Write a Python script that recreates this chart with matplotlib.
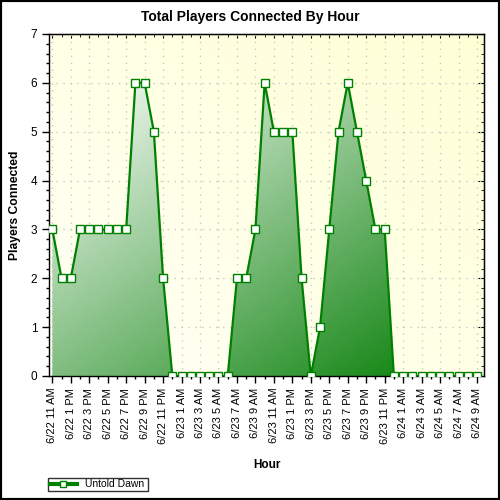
import numpy as np
import matplotlib
matplotlib.use("Agg")
import matplotlib.pyplot as plt
from matplotlib.colors import LinearSegmentedColormap
from matplotlib.lines import Line2D
from matplotlib.patches import Rectangle

plt.rcParams['font.family'] = ['Liberation Sans', 'DejaVu Sans']

title = "Total Players Connected By Hour"
series_name = "Untold Dawn"
tick_labels = ["6/22 11 AM", "6/22 1 PM", "6/22 3 PM", "6/22 5 PM", "6/22 7 PM",
               "6/22 9 PM", "6/22 11 PM", "6/23 1 AM", "6/23 3 AM", "6/23 5 AM",
               "6/23 7 AM", "6/23 9 AM", "6/23 11 AM", "6/23 1 PM", "6/23 3 PM",
               "6/23 5 PM", "6/23 7 PM", "6/23 9 PM", "6/23 11 PM", "6/24 1 AM",
               "6/24 3 AM", "6/24 5 AM", "6/24 7 AM", "6/24 9 AM"]
players = [3, 2, 2, 3, 3, 3, 3, 3, 3, 6, 6, 5, 2,
           0, 0, 0, 0, 0, 0, 0,
           2, 2, 3, 6, 5, 5, 5, 2,
           0,
           1, 3, 5, 6, 5, 4, 3, 3,
           0, 0, 0, 0, 0, 0, 0, 0, 0, 0]

x = np.arange(len(players))
xmin, xmax = -0.36, len(players) - 1 + 0.76
ymin, ymax = 0, 7

fig = plt.figure(figsize=(5, 5), dpi=100)
ax = fig.add_axes([49/500, 1-376/500, (484-49)/500, (376-34)/500])
ax.set_xlim(xmin, xmax)
ax.set_ylim(ymin, ymax)

# background gradient (white bottom-left -> light yellow top-right)
ny, nx = 200, 200
u = np.linspace(0, 1, nx)[None, :]
v = np.linspace(0, 1, ny)[:, None]  # 0 at top
tb = (u + (1 - v)) / 2
bg_cmap = LinearSegmentedColormap.from_list("bg", ["#fffff6", "#ffffd6"])
ax.imshow(tb, cmap=bg_cmap, extent=[xmin, xmax, ymin, ymax], origin='upper',
          aspect='auto', zorder=0, interpolation='bilinear')

# grid
for xv in x[::2]:
    ax.axvline(xv, color='#c8c8c8', lw=1, ls=(0, (1, 4)), zorder=1)
for yv in range(ymin, ymax + 1):
    ax.axhline(yv, color='#c8c8c8', lw=1, ls=(0, (1, 4)), zorder=1)

# area fill with diagonal gradient over the fill's bounding box
poly = ax.fill_between(x, players, 0, facecolor='none', edgecolor='none', zorder=2)
t = (u + v) / 2
fill_cmap = LinearSegmentedColormap.from_list("fg", ["#ffffff", "#007c00"])
im = ax.imshow(t, cmap=fill_cmap, extent=[x[0], x[-1], 0, max(players)], origin='upper',
               aspect='auto', zorder=2, interpolation='bilinear', vmin=0, vmax=1)
im.set_clip_path(poly.get_paths()[0], transform=ax.transData)
ax.set_xlim(xmin, xmax)
ax.set_ylim(ymin, ymax)

ax.plot(x, players, color='#008000', lw=1.6, marker='s', ms=5.2,
        mfc='white', mec='#008000', mew=1.0, zorder=3)

# ticks
ax.set_xticks(x[::2])
ax.set_xticklabels(tick_labels, rotation=90, fontsize=8)
ax.set_xticks(x, minor=True)
ax.set_yticks(range(ymin, ymax + 1))
ax.set_yticks(np.arange(ymin, ymax + 0.01, 0.2), minor=True)
ax.tick_params(axis='y', labelsize=8.5)
ax.tick_params(which='major', direction='out', length=5, width=1, color='black')
ax.tick_params(which='minor', direction='out', length=2.5, width=1, color='black')
for s in ax.spines.values():
    s.set_linewidth(1)

secx = ax.secondary_xaxis('top')
secx.set_xticks(x[::2])
secx.set_xticks(x, minor=True)
secx.tick_params(which='major', direction='in', length=3, labeltop=False)
secx.tick_params(which='minor', direction='in', length=2, labeltop=False)
secx.set_xticklabels([])
secy = ax.secondary_yaxis('right')
secy.set_yticks(range(ymin, ymax + 1))
secy.set_yticks(np.arange(ymin, ymax + 0.01, 0.2), minor=True)
secy.tick_params(which='major', direction='in', length=4, labelright=False)
secy.tick_params(which='minor', direction='in', length=2.5, labelright=False)
secy.set_yticklabels([])

fig.text(0.5, 1-17/500, title, fontsize=10, fontweight='bold', ha='center', va='center')
ax.set_ylabel("Players Connected", fontsize=8.7, fontweight='bold', labelpad=7)
ax.set_xlabel("Hour", fontsize=8.5, fontweight='bold', labelpad=11)

handle = Line2D([], [], color='#008000', lw=3, marker='s', ms=5, mfc='white',
                mec='#008000', mew=1)
leg = fig.legend([handle], [series_name], loc='lower left', mode='expand',
                 bbox_to_anchor=(48/500, 9/500, 100/500, 13/500), fontsize=7.5,
                 frameon=True, fancybox=False, edgecolor='black', borderpad=0.15,
                 handlelength=2.6, handletextpad=0.8, borderaxespad=0)
leg.get_frame().set_linewidth(1)

fig.patches.append(Rectangle((0, 0), 1, 1, transform=fig.transFigure,
                             fill=False, edgecolor='black', lw=3))

fig.savefig("out.png", dpi=100)
